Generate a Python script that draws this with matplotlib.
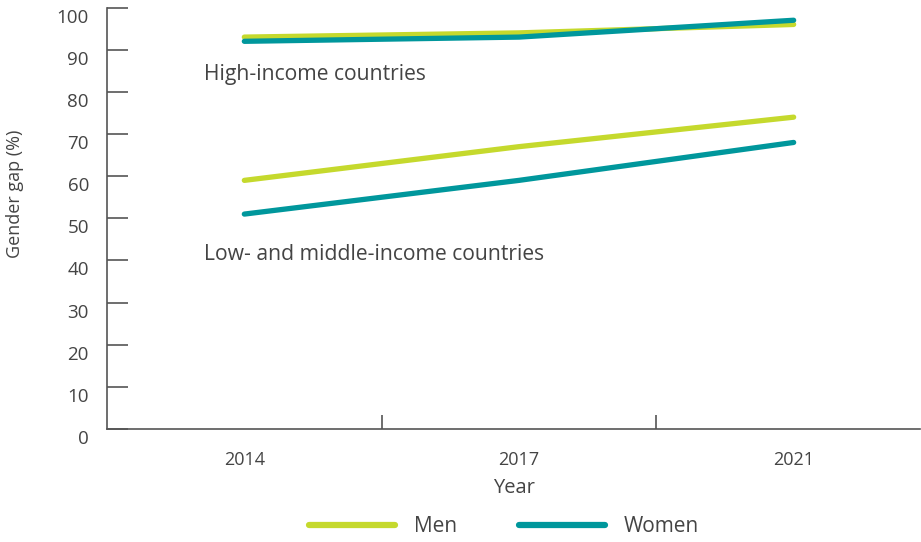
import matplotlib
matplotlib.use("Agg")
import matplotlib.pyplot as plt
import matplotlib.transforms as mtransforms
from matplotlib.lines import Line2D

years = ["2014", "2017", "2021"]
high_men = [93, 94, 96]
high_women = [92, 93, 97]
low_men = [59, 67, 74]
low_women = [51, 59, 68]
y_ticks = [0, 10, 20, 30, 40, 50, 60, 70, 80, 90, 100]

MEN = "#c5d92d"
WOMEN = "#00979c"
TEXT = "#444444"
AXIS = "#555555"

plt.rcParams["font.family"] = ["Open Sans", "DejaVu Sans"]
plt.rcParams["font.weight"] = "normal"
plt.rcParams["axes.labelweight"] = "normal"

fig = plt.figure(figsize=(9.21, 5.42), dpi=100)
ax = fig.add_axes([107 / 921, 1 - 429 / 542, (920 - 107) / 921, (429 - 7.6) / 542])

x = list(range(len(years)))
lw = 3.8
ax.plot(x, high_men, color=MEN, lw=lw, solid_capstyle="round", zorder=3)
ax.plot(x, high_women, color=WOMEN, lw=lw, solid_capstyle="round", zorder=4)
ax.plot(x, low_men, color=MEN, lw=lw, solid_capstyle="round", zorder=3)
ax.plot(x, low_women, color=WOMEN, lw=lw, solid_capstyle="round", zorder=4)

ax.set_xlim(-0.5, 2.46)
ax.set_ylim(0, 100)

for s in ("top", "right"):
    ax.spines[s].set_visible(False)
for s in ("left", "bottom"):
    ax.spines[s].set_color(AXIS)
    ax.spines[s].set_linewidth(1.2)

# y ticks point inward, labels sit a little below each tick
ax.set_yticks(y_ticks)
ax.set_yticklabels([str(v) for v in y_ticks])
ax.tick_params(axis="y", direction="in", length=15, width=1.2, color=AXIS,
               labelsize=13.5, labelcolor=TEXT, pad=13)
shift = mtransforms.ScaledTranslation(0, -8 / 100, fig.dpi_scale_trans)
for lab in ax.get_yticklabels():
    lab.set_transform(lab.get_transform() + shift)

# x ticks mark the category boundaries; labels sit at the category centres
ax.set_xticks([0.5, 1.5])
ax.set_xticklabels([])
ax.tick_params(axis="x", direction="in", length=10, width=1.2, color=AXIS)
ax.set_xticks(x, minor=True)
ax.set_xticklabels(years, minor=True)
ax.tick_params(axis="x", which="minor", length=0, labelsize=13,
               labelcolor=TEXT, pad=16)

ax.set_xlabel("Year", fontsize=14.5, color=TEXT, labelpad=6)
fig.text(15 / 921, 1 - 194 / 542, "Gender gap (%)", rotation=90, fontsize=13,
         color=TEXT, ha="center", va="center")

ax.text(-0.147, 84.2, "High-income countries", fontsize=15.2, color=TEXT,
        ha="left", va="center")
ax.text(-0.147, 41.5, "Low- and middle-income countries", fontsize=15.2,
        color=TEXT, ha="left", va="center")

handles = [Line2D([], [], color=MEN, lw=4.5, solid_capstyle="round"),
           Line2D([], [], color=WOMEN, lw=4.5, solid_capstyle="round")]
fig.legend(handles, ["Men", "Women"], loc="center", ncol=2,
           bbox_to_anchor=(504 / 921, 1 - 527 / 542), frameon=False,
           fontsize=15, labelcolor=TEXT, handlelength=4.1, handletextpad=0.9,
           columnspacing=3.0)

fig.savefig("out.png", dpi=100)
